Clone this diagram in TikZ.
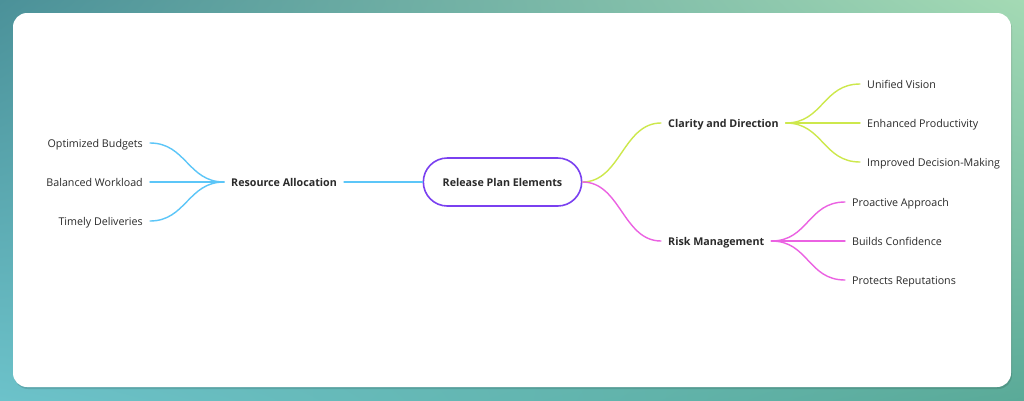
\documentclass[tikz,border=0pt]{standalone}
\usepackage{fontspec}
\setmainfont{Open Sans}
\usetikzlibrary{shapes.misc,shadings}
\definecolor{bgTL}{HTML}{4B9199}
\definecolor{bgTR}{HTML}{A4DAB4}
\definecolor{bgBL}{HTML}{6CC2CA}
\definecolor{bgBR}{HTML}{5AAA98}
\definecolor{cblue}{HTML}{5CC6F8}
\definecolor{cgreen}{HTML}{CDE84C}
\definecolor{cpink}{HTML}{EB62E2}
\definecolor{cpurple}{HTML}{7A40F0}
\definecolor{ctext}{HTML}{2A2A2A}
\tikzset{
  leaf/.style={inner xsep=7pt, inner ysep=3pt, text height=9pt, text depth=0pt, text=ctext, font=\fontsize{10.7}{12}\selectfont},
  hub/.style={inner xsep=7pt, inner ysep=3pt, text height=9pt, text depth=0pt, text=ctext, font=\fontsize{10.7}{12}\selectfont\bfseries},
  link/.style={line width=1.4pt, line cap=round},
}
\begin{document}
\begin{tikzpicture}[x=1pt,y=-1pt]
\useasboundingbox (0,0) rectangle (1024,400);
\shade[upper left=bgTL, upper right=bgTR, lower left=bgBL, lower right=bgBR] (0,0) rectangle (1024,400);
\fill[black, opacity=0.12, rounded corners=14pt] (14,15) rectangle (1012,389);
\fill[white, rounded corners=14pt] (13,13) rectangle (1011,387);

\node[draw=cpurple, line width=1.6pt, rounded rectangle, minimum width=165pt, minimum height=48pt, text height=9pt, text depth=0pt, font=\fontsize{10.7}{12}\selectfont\bfseries, text=ctext] (root) at (502.5,182) {Release Plan Elements};

% left branch
\node[hub, anchor=west] (ra) at (224,182) {Resource Allocation};
\node[leaf, anchor=east] (ob) at (150,143) {Optimized Budgets};
\node[leaf, anchor=east] (bw) at (150,182) {Balanced Workload};
\node[leaf, anchor=east] (td) at (150,221) {Timely Deliveries};

% right top
\node[hub, anchor=west] (cd) at (661,123) {Clarity and Direction};
\node[leaf, anchor=west] (uv) at (860,84) {Unified Vision};
\node[leaf, anchor=west] (ep) at (860,123) {Enhanced Productivity};
\node[leaf, anchor=west] (id) at (860,162) {Improved Decision-Making};

% right bottom
\node[hub, anchor=west] (rm) at (661,241) {Risk Management};
\node[leaf, anchor=west] (pa) at (845,202) {Proactive Approach};
\node[leaf, anchor=west] (bc) at (845,241) {Builds Confidence};
\node[leaf, anchor=west] (pr) at (845,280) {Protects Reputations};

\draw[link, cblue] (root.west) -- (ra.east);
\draw[link, cblue] (ra.west) .. controls +(-36,0) and +(36,0) .. (ob.east);
\draw[link, cblue] (ra.west) -- (bw.east);
\draw[link, cblue] (ra.west) .. controls +(-36,0) and +(36,0) .. (td.east);

\draw[link, cgreen] (root.east) .. controls +(38,0) and +(-38,0) .. (cd.west);
\draw[link, cgreen] (cd.east) .. controls +(37,0) and +(-37,0) .. (uv.west);
\draw[link, cgreen] (cd.east) -- (ep.west);
\draw[link, cgreen] (cd.east) .. controls +(37,0) and +(-37,0) .. (id.west);

\draw[link, cpink] (root.east) .. controls +(38,0) and +(-38,0) .. (rm.west);
\draw[link, cpink] (rm.east) .. controls +(37,0) and +(-37,0) .. (pa.west);
\draw[link, cpink] (rm.east) -- (bc.west);
\draw[link, cpink] (rm.east) .. controls +(37,0) and +(-37,0) .. (pr.west);
\end{tikzpicture}
\end{document}
